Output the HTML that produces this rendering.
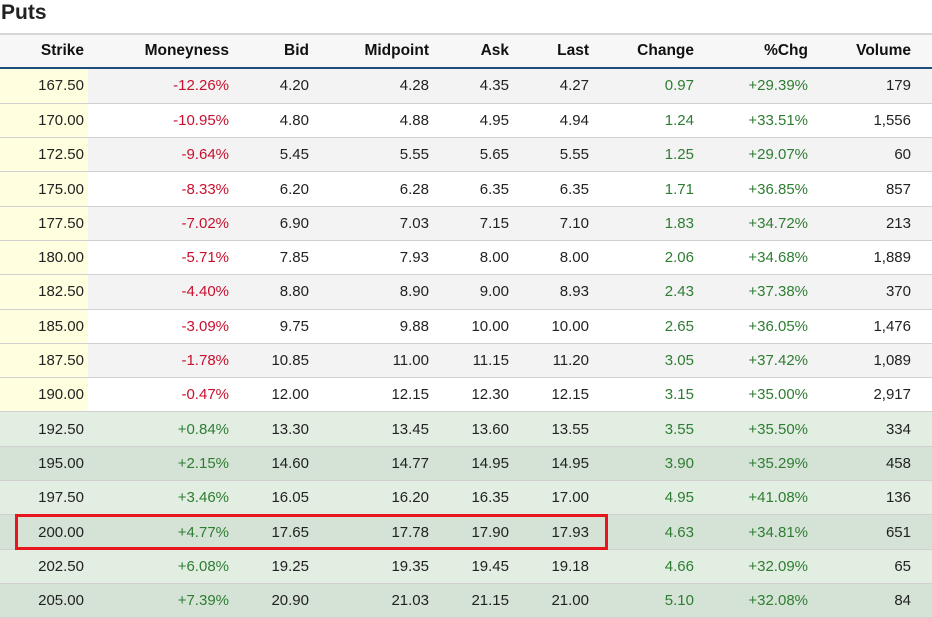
<!DOCTYPE html>
<html><head><style>
body{margin:0;width:932px;height:618px;background:#fff;font-family:"Liberation Sans","DejaVu Sans",sans-serif;color:#222;position:relative;overflow:hidden}
.t{position:absolute;left:1px;top:0;font-size:21px;font-weight:bold;color:#222;line-height:26px}
table{position:absolute;left:0;top:33px;width:932px;border-collapse:collapse;font-size:15px}
th{height:34px;background:#f7f7f7;border-top:2px solid #d6d6d6;border-bottom:3px solid #1d4f7c;text-align:right;font-size:15.5px;font-weight:bold;color:#111;padding:0;box-sizing:border-box}
td{height:34.3px;text-align:right;padding:0;border-bottom:1px solid #d0d0d0;box-sizing:border-box}
tr.g td{background:#f3f3f3}
tr.gl td{background:#e3eee3}
tr.gd td{background:#d5e3d6}
td.y{background:#ffffe0 !important}
.r{color:#c8102e}.gr{color:#2e7d32}
.box{position:absolute;left:15px;top:514px;width:593px;height:36px;border:3px solid #e8141e;box-sizing:border-box}
</style></head><body>
<div class="t">Puts</div>
<table>
<colgroup><col style="width:88px"><col style="width:145px"><col style="width:80px"><col style="width:120px"><col style="width:80px"><col style="width:80px"><col style="width:105px"><col style="width:114px"><col style="width:120px"></colgroup>
<tr><th style="padding-right:4px">Strike</th><th style="padding-right:4px">Moneyness</th><th style="padding-right:4px">Bid</th><th style="padding-right:4px">Midpoint</th><th style="padding-right:4px">Ask</th><th style="padding-right:4px">Last</th><th style="padding-right:4px">Change</th><th style="padding-right:4px">%Chg</th><th style="padding-right:21px">Volume</th></tr>
</table>
<table style="top:69px" id="b">
<colgroup><col style="width:88px"><col style="width:145px"><col style="width:80px"><col style="width:120px"><col style="width:80px"><col style="width:80px"><col style="width:105px"><col style="width:114px"><col style="width:120px"></colgroup>
<tr class="g"><td class="y" style="padding-right:4px">167.50</td><td class="r" style="padding-right:4px">-12.26%</td><td style="padding-right:4px">4.20</td><td style="padding-right:4px">4.28</td><td style="padding-right:4px">4.35</td><td style="padding-right:4px">4.27</td><td class="gr" style="padding-right:4px">0.97</td><td class="gr" style="padding-right:4px">+29.39%</td><td style="padding-right:21px">179</td></tr>
<tr><td class="y" style="padding-right:4px">170.00</td><td class="r" style="padding-right:4px">-10.95%</td><td style="padding-right:4px">4.80</td><td style="padding-right:4px">4.88</td><td style="padding-right:4px">4.95</td><td style="padding-right:4px">4.94</td><td class="gr" style="padding-right:4px">1.24</td><td class="gr" style="padding-right:4px">+33.51%</td><td style="padding-right:21px">1,556</td></tr>
<tr class="g"><td class="y" style="padding-right:4px">172.50</td><td class="r" style="padding-right:4px">-9.64%</td><td style="padding-right:4px">5.45</td><td style="padding-right:4px">5.55</td><td style="padding-right:4px">5.65</td><td style="padding-right:4px">5.55</td><td class="gr" style="padding-right:4px">1.25</td><td class="gr" style="padding-right:4px">+29.07%</td><td style="padding-right:21px">60</td></tr>
<tr><td class="y" style="padding-right:4px">175.00</td><td class="r" style="padding-right:4px">-8.33%</td><td style="padding-right:4px">6.20</td><td style="padding-right:4px">6.28</td><td style="padding-right:4px">6.35</td><td style="padding-right:4px">6.35</td><td class="gr" style="padding-right:4px">1.71</td><td class="gr" style="padding-right:4px">+36.85%</td><td style="padding-right:21px">857</td></tr>
<tr class="g"><td class="y" style="padding-right:4px">177.50</td><td class="r" style="padding-right:4px">-7.02%</td><td style="padding-right:4px">6.90</td><td style="padding-right:4px">7.03</td><td style="padding-right:4px">7.15</td><td style="padding-right:4px">7.10</td><td class="gr" style="padding-right:4px">1.83</td><td class="gr" style="padding-right:4px">+34.72%</td><td style="padding-right:21px">213</td></tr>
<tr><td class="y" style="padding-right:4px">180.00</td><td class="r" style="padding-right:4px">-5.71%</td><td style="padding-right:4px">7.85</td><td style="padding-right:4px">7.93</td><td style="padding-right:4px">8.00</td><td style="padding-right:4px">8.00</td><td class="gr" style="padding-right:4px">2.06</td><td class="gr" style="padding-right:4px">+34.68%</td><td style="padding-right:21px">1,889</td></tr>
<tr class="g"><td class="y" style="padding-right:4px">182.50</td><td class="r" style="padding-right:4px">-4.40%</td><td style="padding-right:4px">8.80</td><td style="padding-right:4px">8.90</td><td style="padding-right:4px">9.00</td><td style="padding-right:4px">8.93</td><td class="gr" style="padding-right:4px">2.43</td><td class="gr" style="padding-right:4px">+37.38%</td><td style="padding-right:21px">370</td></tr>
<tr><td class="y" style="padding-right:4px">185.00</td><td class="r" style="padding-right:4px">-3.09%</td><td style="padding-right:4px">9.75</td><td style="padding-right:4px">9.88</td><td style="padding-right:4px">10.00</td><td style="padding-right:4px">10.00</td><td class="gr" style="padding-right:4px">2.65</td><td class="gr" style="padding-right:4px">+36.05%</td><td style="padding-right:21px">1,476</td></tr>
<tr class="g"><td class="y" style="padding-right:4px">187.50</td><td class="r" style="padding-right:4px">-1.78%</td><td style="padding-right:4px">10.85</td><td style="padding-right:4px">11.00</td><td style="padding-right:4px">11.15</td><td style="padding-right:4px">11.20</td><td class="gr" style="padding-right:4px">3.05</td><td class="gr" style="padding-right:4px">+37.42%</td><td style="padding-right:21px">1,089</td></tr>
<tr><td class="y" style="padding-right:4px">190.00</td><td class="r" style="padding-right:4px">-0.47%</td><td style="padding-right:4px">12.00</td><td style="padding-right:4px">12.15</td><td style="padding-right:4px">12.30</td><td style="padding-right:4px">12.15</td><td class="gr" style="padding-right:4px">3.15</td><td class="gr" style="padding-right:4px">+35.00%</td><td style="padding-right:21px">2,917</td></tr>
<tr class="gl"><td style="padding-right:4px">192.50</td><td class="gr" style="padding-right:4px">+0.84%</td><td style="padding-right:4px">13.30</td><td style="padding-right:4px">13.45</td><td style="padding-right:4px">13.60</td><td style="padding-right:4px">13.55</td><td class="gr" style="padding-right:4px">3.55</td><td class="gr" style="padding-right:4px">+35.50%</td><td style="padding-right:21px">334</td></tr>
<tr class="gd"><td style="padding-right:4px">195.00</td><td class="gr" style="padding-right:4px">+2.15%</td><td style="padding-right:4px">14.60</td><td style="padding-right:4px">14.77</td><td style="padding-right:4px">14.95</td><td style="padding-right:4px">14.95</td><td class="gr" style="padding-right:4px">3.90</td><td class="gr" style="padding-right:4px">+35.29%</td><td style="padding-right:21px">458</td></tr>
<tr class="gl"><td style="padding-right:4px">197.50</td><td class="gr" style="padding-right:4px">+3.46%</td><td style="padding-right:4px">16.05</td><td style="padding-right:4px">16.20</td><td style="padding-right:4px">16.35</td><td style="padding-right:4px">17.00</td><td class="gr" style="padding-right:4px">4.95</td><td class="gr" style="padding-right:4px">+41.08%</td><td style="padding-right:21px">136</td></tr>
<tr class="gd"><td style="padding-right:4px">200.00</td><td class="gr" style="padding-right:4px">+4.77%</td><td style="padding-right:4px">17.65</td><td style="padding-right:4px">17.78</td><td style="padding-right:4px">17.90</td><td style="padding-right:4px">17.93</td><td class="gr" style="padding-right:4px">4.63</td><td class="gr" style="padding-right:4px">+34.81%</td><td style="padding-right:21px">651</td></tr>
<tr class="gl"><td style="padding-right:4px">202.50</td><td class="gr" style="padding-right:4px">+6.08%</td><td style="padding-right:4px">19.25</td><td style="padding-right:4px">19.35</td><td style="padding-right:4px">19.45</td><td style="padding-right:4px">19.18</td><td class="gr" style="padding-right:4px">4.66</td><td class="gr" style="padding-right:4px">+32.09%</td><td style="padding-right:21px">65</td></tr>
<tr class="gd"><td style="padding-right:4px">205.00</td><td class="gr" style="padding-right:4px">+7.39%</td><td style="padding-right:4px">20.90</td><td style="padding-right:4px">21.03</td><td style="padding-right:4px">21.15</td><td style="padding-right:4px">21.00</td><td class="gr" style="padding-right:4px">5.10</td><td class="gr" style="padding-right:4px">+32.08%</td><td style="padding-right:21px">84</td></tr>
</table>
<div class="box"></div>
</body></html>
